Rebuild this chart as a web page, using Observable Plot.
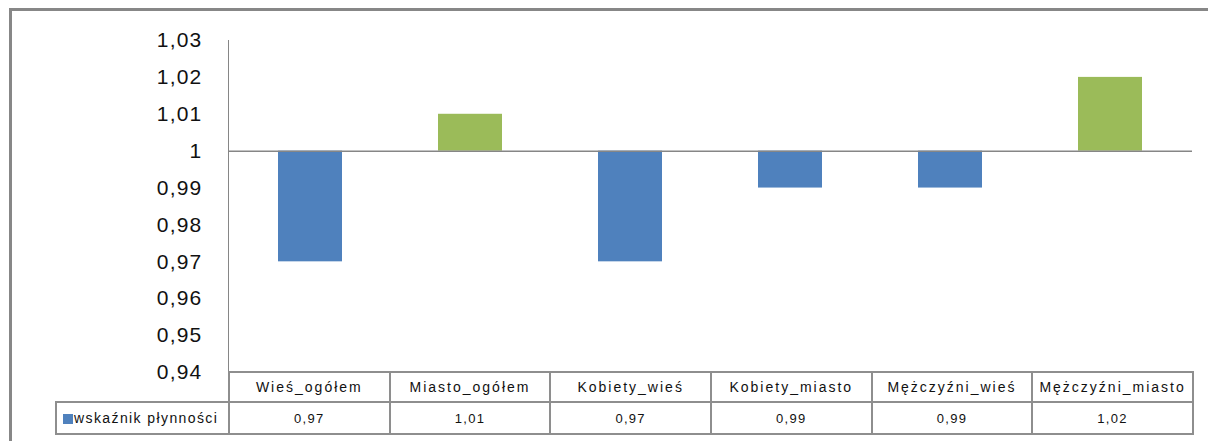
<!DOCTYPE html>
<html>
<head>
<meta charset="utf-8">
<script src="https://cdn.jsdelivr.net/npm/d3@7"></script>
<script src="https://cdn.jsdelivr.net/npm/@observablehq/plot@0.6"></script>
<style>
  html, body { margin: 0; padding: 0; background: #fff; }
  #wrap { position: relative; width: 1208px; height: 441px; overflow: hidden; font-family: "Liberation Sans", Arial, sans-serif; }
  #frame { position: absolute; left: 9px; top: 8px; right: -10px; bottom: -10px; border-left: 3px solid #878787; border-top: 3px solid #878787; }
  #chart { position: absolute; left: 0; top: 0; }
  #tbl { position: absolute; left: 55px; top: 371px; border-collapse: collapse; table-layout: fixed; }
  #tbl td { border: 2px solid #8e8e8e; padding: 0; text-align: center; color: #111; white-space: nowrap; overflow: hidden; }
  #tbl tr.cat td { height: 28px; font-size: 14px; letter-spacing: 2px; }
  #tbl tr.val td { height: 30px; font-size: 13px; letter-spacing: 1.3px; }
  #tbl tr.cat td.blank { border: none; border-right: 2px solid #8e8e8e; }
  #tbl tr.val td.leg { text-align: left; font-size: 14px; letter-spacing: 1.4px; padding-left: 6px; }
  .key { display: inline-block; width: 10px; height: 10px; background: #4F81BD; margin-right: 1px; vertical-align: -1px; }
</style>
</head>
<body>
<div id="wrap">
  <div id="frame"></div>
  <div id="chart"></div>
  <table id="tbl"></table>
</div>
<script>
const categories = ["Wieś_ogółem", "Miasto_ogółem", "Kobiety_wieś", "Kobiety_miasto", "Mężczyźni_wieś", "Mężczyźni_miasto"];
const values = [0.97, 1.01, 0.97, 0.99, 0.99, 1.02];
const valueLabels = ["0,97", "1,01", "0,97", "0,99", "0,99", "1,02"];
const seriesName = "wskaźnik płynności";
const yTicks = [0.94, 0.95, 0.96, 0.97, 0.98, 0.99, 1, 1.01, 1.02, 1.03];
const baseline = 1;

const data = categories.map((c, i) => ({
  category: c,
  value: values[i],
  sign: values[i] < baseline ? "below" : "above"
}));

const fmt = d => String(d).replace(".", ",");

const chart = Plot.plot({
  width: 1208,
  height: 441,
  marginLeft: 228,
  marginRight: 16,
  marginTop: 40,
  marginBottom: 69,
  style: { fontFamily: "'Liberation Sans', Arial, sans-serif", background: "transparent", color: "#111" },
  x: { domain: categories, padding: 0, axis: null },
  y: { domain: [0.94, 1.03], ticks: yTicks, tickFormat: fmt, tickSize: 0, tickPadding: 26, label: null },
  color: { domain: ["below", "above"], range: ["#4F81BD", "#9BBB59"] },
  marks: [
    Plot.barY(data, { x: "category", y1: () => baseline, y2: "value", fill: "sign", insetLeft: 48, insetRight: 48 }),
    Plot.ruleY([baseline], { stroke: "#868686", strokeWidth: 1.5 }),
    Plot.frame({ anchor: "left", stroke: "#868686" }),
    Plot.axisY({ ticks: yTicks, tickFormat: fmt, tickSize: 0, tickPadding: 26, fontSize: 21, label: null, fill: "#111" })
  ]
});
chart.querySelectorAll("text").forEach(t => t.setAttribute("letter-spacing", "1.2"));
document.getElementById("chart").appendChild(chart);

// data table below the chart
const tbl = document.getElementById("tbl");
const colgroup = document.createElement("colgroup");
const c0 = document.createElement("col"); c0.style.width = "173px"; colgroup.appendChild(c0);
categories.forEach(() => { const c = document.createElement("col"); c.style.width = "160.67px"; colgroup.appendChild(c); });
tbl.appendChild(colgroup);
const r1 = document.createElement("tr"); r1.className = "cat";
const blank = document.createElement("td"); blank.className = "blank"; r1.appendChild(blank);
categories.forEach(c => { const td = document.createElement("td"); td.textContent = c; r1.appendChild(td); });
tbl.appendChild(r1);
const r2 = document.createElement("tr"); r2.className = "val";
const leg = document.createElement("td"); leg.className = "leg";
const key = document.createElement("span"); key.className = "key"; leg.appendChild(key);
leg.appendChild(document.createTextNode(seriesName));
r2.appendChild(leg);
valueLabels.forEach(v => { const td = document.createElement("td"); td.textContent = v; r2.appendChild(td); });
tbl.appendChild(r2);
</script>
</body>
</html>
